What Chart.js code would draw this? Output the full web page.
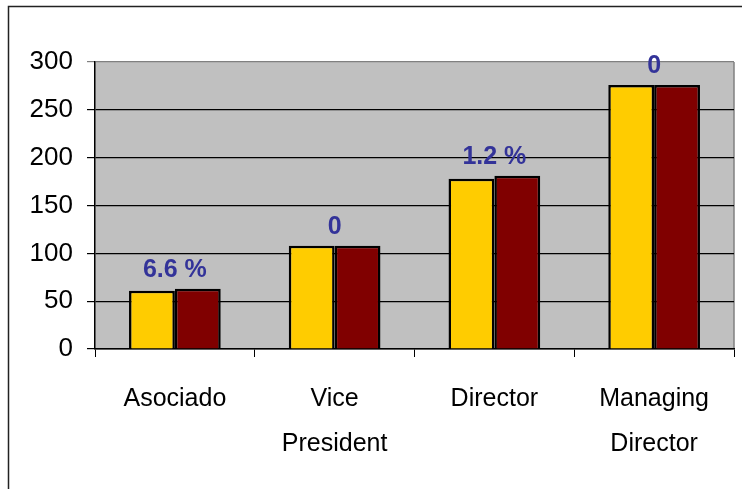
<!DOCTYPE html>
<html>
<head>
<meta charset="utf-8">
<script src="https://cdn.jsdelivr.net/npm/chart.js@4"></script>
<style>
  html, body { margin: 0; padding: 0; background: #fff; }
  #wrap { width: 742px; height: 489px; position: relative; }
</style>
</head>
<body>
<div id="wrap"><canvas id="chart" width="742" height="489"></canvas></div>
<script>
const categories = [['Asociado'], ['Vice', 'President'], ['Director'], ['Managing', 'Director']]
const seriesA = [61, 108, 178, 276]
const seriesB = [63, 108, 181, 276]
const changeLabels = ['6.6 %', '0', '1.2 %', '0']
const yTicks = [0, 50, 100, 150, 200, 250, 300]

// grey plot area + outer frame
const backdrop = {
  id: 'backdrop',
  beforeDraw: chart => {
    const ctx = chart.ctx
    const a = chart.chartArea
    ctx.save()
    ctx.fillStyle = '#fff'
    ctx.fillRect(0, 0, chart.width, chart.height)
    ctx.strokeStyle = '#222'
    ctx.lineWidth = 1.5
    ctx.beginPath()
    ctx.moveTo(8.5, chart.height)
    ctx.lineTo(8.5, 6.5)
    ctx.lineTo(chart.width, 6.5)
    ctx.stroke()
    ctx.fillStyle = '#C0C0C0'
    ctx.fillRect(a.left, a.top, a.right - a.left, a.bottom - a.top)
    ctx.strokeStyle = '#808080'
    ctx.lineWidth = 1.5
    ctx.beginPath()
    ctx.moveTo(a.right, a.bottom)
    ctx.lineTo(a.right, a.top)
    ctx.stroke()
    ctx.restore()
  }
}

// percent labels above each pair
const changeText = {
  id: 'changeText',
  afterDatasetsDraw: chart => {
    const ctx = chart.ctx
    const x = chart.scales.x
    const y = chart.scales.y
    ctx.save()
    ctx.font = 'bold 25px "Liberation Sans", Arial, sans-serif'
    ctx.fillStyle = '#333399'
    ctx.textAlign = 'center'
    ctx.textBaseline = 'middle'
    changeLabels.forEach((t, i) => {
      const top = Math.max(seriesA[i], seriesB[i])
      ctx.fillText(t, x.getPixelForValue(i), y.getPixelForValue(top) - 19)
    })
    ctx.restore()
  }
}

new Chart(document.getElementById('chart'), {
  type: 'bar',
  plugins: [backdrop, changeText],
  data: {
    labels: categories,
    datasets: [{
      data: seriesA,
      backgroundColor: '#FFCC00',
      borderColor: '#000',
      borderWidth: 2.5,
      categoryPercentage: 0.574,
      barPercentage: 1
    }, {
      data: seriesB,
      backgroundColor: '#800000',
      borderColor: '#000',
      borderWidth: 2.5,
      categoryPercentage: 0.574,
      barPercentage: 1
    }]
  },
  options: {
    responsive: false,
    animation: false,
    layout: { padding: { left: 0, right: 8, top: 62, bottom: 0 } },
    plugins: {
      legend: { display: false },
      tooltip: { enabled: false },
      title: { display: false }
    },
    scales: {
      x: {
        afterFit: s => { s.height = 140 },
        grid: {
          drawOnChartArea: false,
          color: '#000',
          tickLength: 8,
          lineWidth: 1
        },
        border: { color: '#000', width: 1.5 },
        ticks: {
          color: '#000',
          padding: 19,
          maxRotation: 0,
          autoSkip: false,
          font: { family: '"Liberation Sans", Arial, sans-serif', size: 25, lineHeight: 1.82 }
        }
      },
      y: {
        min: 0,
        max: 300,
        afterFit: s => { s.width = 95 },
        afterBuildTicks: s => { s.ticks = yTicks.map(v => ({ value: v })) },
        grid: {
          color: ctx => (ctx.tick && ctx.tick.value === 300 ? '#808080' : '#000'),
          lineWidth: 1.2,
          tickLength: 8
        },
        border: { color: '#000', width: 1.5 },
        ticks: {
          color: '#000',
          padding: 14,
          font: { family: '"Liberation Sans", Arial, sans-serif', size: 26 }
        }
      }
    }
  }
})
</script>
</body>
</html>
